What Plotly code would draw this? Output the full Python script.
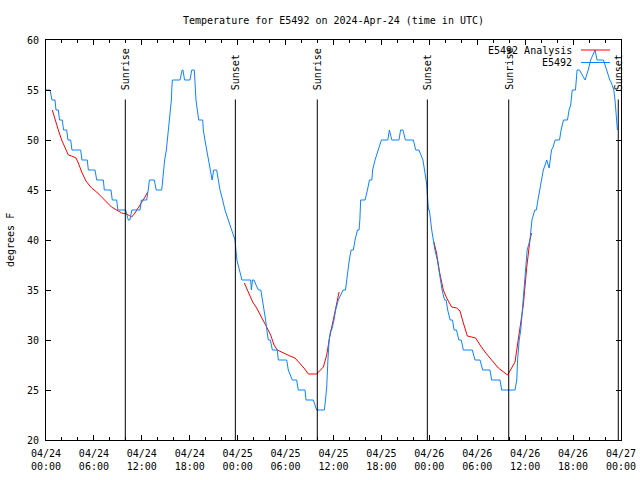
import pandas as pd
import plotly.graph_objects as go

BASE = pd.Timestamp("2024-04-24 00:00")

# Observed station temperature (hours since 04/24 00:00 UTC, deg F)
obs_hours = [0.0, 0.5, 0.75, 1.13, 1.25, 1.54, 1.7, 2.04, 2.2, 2.59, 2.75, 3.09, 3.25, 4.34, 4.5,
             5.17, 5.3, 6.14, 6.35, 7.18, 7.3, 8.14, 8.3, 8.85, 9.0, 9.98, 10.3, 10.5, 10.75,
             11.77, 11.95, 12.6, 12.8, 12.95, 13.56, 13.8, 14.49, 14.7, 14.86, 15.07, 15.2,
             15.36, 15.49, 15.61, 15.7, 15.75, 15.82, 16.78, 17.05, 17.15, 17.35, 18.03, 18.25,
             18.57, 18.7, 18.78, 18.95, 19.12, 19.62, 19.7, 19.9, 20.12, 20.33, 20.6, 20.8,
             21.0, 21.37, 21.58, 21.79, 22.12, 22.41, 22.83, 23.25, 23.67, 23.9, 24.2, 24.54,
             25.63, 25.72, 25.85, 26.05, 26.3, 26.6, 26.9, 27.13, 27.3, 27.5, 27.65, 27.84,
             28.1, 28.34, 28.96, 29.09, 30.14, 30.34, 30.84, 31.39, 31.59, 32.43, 32.56, 33.47,
             33.89, 34.85, 35.0, 35.15, 35.3, 35.45, 35.65, 35.77, 36.06, 36.27, 36.6, 36.9,
             37.2, 37.5, 37.65, 37.8, 37.98, 38.2, 38.48, 38.7, 39.0, 39.2, 39.3, 39.4, 39.95,
             40.25, 40.5, 40.8, 40.9, 41.2, 41.6, 42.0, 42.8, 43.0, 43.3, 44.2, 44.4, 44.7,
             45.0, 46.0, 46.3, 46.7, 47.2, 47.4, 47.55, 47.65, 47.9, 48.0, 48.3, 48.5, 48.7,
             49.0, 49.2, 49.4, 49.6, 49.9, 50.1, 50.3, 50.6, 50.9, 51.1, 51.4, 51.7, 52.0,
             52.26, 53.38, 53.72, 54.35, 54.68, 55.6, 55.8, 56.85, 57.06, 58.73, 58.95, 59.05,
             59.25, 59.45, 59.65, 59.85, 60.05, 60.25, 60.6, 60.75, 60.85, 61.2, 61.4, 61.6,
             61.85, 62.05, 62.27, 62.5, 62.7, 63.0, 63.1, 63.3, 63.5, 63.75, 64.3, 64.5, 64.8,
             65.3, 65.5, 65.7, 65.9, 66.3, 66.5, 66.8, 67.5, 67.9, 68.2, 68.75, 69.0, 69.8,
             70.0, 70.2, 70.4, 70.6, 70.8, 71.1, 71.25, 71.35, 71.45, 71.55]
obs_temps = [55, 55, 54, 54, 53, 53, 52, 52, 51, 51, 50, 50, 49, 49, 48,
             48, 47, 47, 46, 46, 45, 45, 44, 44, 43, 43, 42, 42, 43,
             43, 44, 44, 45, 46, 46, 45, 45, 47, 48, 49, 50,
             51, 52, 53, 54, 55, 56, 56, 57, 57, 56, 56, 57,
             57, 55, 54, 53, 52, 52, 51, 50, 49, 48, 47, 46,
             47, 47, 46, 45, 44, 43, 42, 41, 40, 38, 37, 36,
             36, 35, 36, 36, 35.5, 35, 35, 34, 33, 32, 31, 30,
             30, 29, 29, 28, 28, 27, 26, 26, 25, 25, 24, 24,
             23, 23, 24, 25.3, 28, 30, 31, 31, 32, 33, 34, 34.5,
             35, 35, 36, 37, 38, 39, 39, 40, 41, 41, 42, 44, 44,
             45, 46, 46, 47, 48, 49, 50, 50, 51, 50, 50, 51, 51,
             50, 50, 49, 49, 48, 47, 46.5, 45.7, 43, 43, 41, 40, 39,
             38, 37, 36, 35, 34, 34, 33, 32, 32, 31, 31, 30, 30,
             29, 29, 28, 28, 27, 27, 26, 26, 25, 25, 26, 28,
             30, 31, 33, 35, 37, 39, 40, 41, 42, 43, 43, 44,
             45, 46, 47, 47.5, 48, 47.2, 48, 49, 49.3, 50, 50, 51, 52,
             52, 53, 53.5, 55, 55, 57, 57, 56, 57, 58, 59, 58, 58,
             57.5, 57, 56.3, 56, 55.7, 55, 54, 52.7, 51.7, 51]

# Analysis temperature, three overnight windows (None = gap)
ana_hours = [0.79, 1.13, 1.54, 1.96, 2.38, 2.8, 3.2, 3.76, 4.05, 4.47, 5.0, 5.7, 6.35, 6.97,
             7.6, 8.2, 8.85, 9.48, 10.1, 10.73, 11.14, 11.56, 11.98, 12.4, 12.73, None,
             24.83, 25.33, 25.88, 26.38, 27.0, 27.63, 28.13, 28.55, 28.96, 29.71, 30.55, 31.18,
             31.8, 32.3, 32.85, 33.89, 34.73, 35.15, 35.5, 35.8, 36.2, 36.7, None,
             48.58, 48.9, 49.3, 49.75, 50.17, 50.8, 51.43, 51.84, 52.26, 52.76, 53.3, 53.8,
             54.35, 54.97, 55.8, 56.64, 57.8, 58.3, 58.73, 59.0, 59.35, 59.77, 60.2, 60.6, 60.8]
ana_temps = [53, 52.2, 51, 50, 49.2, 48.5, 48.4, 48.2, 47.7, 46.8, 45.9, 45.2, 44.8, 44.3,
             43.8, 43.3, 43, 42.7, 42.6, 42.3, 42.7, 43.2, 43.7, 44.3, 44.8, None,
             35.7, 34.8, 33.8, 33.2, 32.3, 31.3, 30.5, 29.5, 29, 28.7, 28.4, 28.2,
             27.7, 27.2, 26.6, 26.6, 27.3, 28.5, 30.2, 31.3, 32.7, 34.8, None,
             39.8, 38.7, 36.7, 35, 34.2, 33.3, 33.2, 32.9, 31.7, 30.4, 30.3, 30.2,
             29.5, 28.8, 28, 27.2, 26.5, 27.2, 27.8, 29.3, 31.3, 33.5, 37.3, 40, 40.7]

sun_hours = [9.93, 23.71, 33.97, 47.75, 57.94, 71.66]
sun_labels = ["Sunrise", "Sunset", "Sunrise", "Sunset", "Sunrise", "Sunset"]

title = "Temperature for E5492 on 2024-Apr-24 (time in UTC)"
ytitle = "degrees F"
names = ["E5492 Analysis", "E5492"]
colors = ["#ff0000", "#0a84ff"]


def to_time(hs):
    return [None if h is None else BASE + pd.Timedelta(hours=h) for h in hs]


FONT = dict(family="DejaVu Sans Mono", size=10, color="black")

fig = go.Figure()
fig.add_trace(go.Scatter(x=to_time(ana_hours), y=ana_temps, mode="lines", name=names[0],
                         line=dict(color=colors[0], width=1), connectgaps=False))
fig.add_trace(go.Scatter(x=to_time(obs_hours), y=obs_temps, mode="lines", name=names[1],
                         line=dict(color=colors[1], width=1)))

for h, lab in zip(sun_hours, sun_labels):
    t = BASE + pd.Timedelta(hours=h)
    fig.add_shape(type="line", xref="x", yref="y", x0=t, x1=t, y0=20, y1=54.05,
                  line=dict(color="black", width=1))
    fig.add_annotation(x=t, y=54.8, xref="x", yref="y", text=lab, showarrow=False,
                       textangle=-90, xanchor="center", yanchor="bottom", font=FONT)

# legend (gnuplot style: text right, sample on the right)
leg_y = [50, 62.5]
for nm, col, yp in zip(names, colors, leg_y):
    yv = 60 - (yp - 40) / 10
    fig.add_annotation(x=BASE + pd.Timedelta(hours=(574 - 46) / 7.986), y=yv, xref="x", yref="y",
                       text=nm, showarrow=False, xanchor="right", yanchor="middle", font=FONT)
    fig.add_shape(type="line", xref="x", yref="y",
                  x0=BASE + pd.Timedelta(hours=(581 - 46) / 7.986),
                  x1=BASE + pd.Timedelta(hours=(610 - 46) / 7.986),
                  y0=yv, y1=yv, line=dict(color=col, width=1))

fig.add_annotation(xref="paper", yref="paper", x=0, y=0.5, xshift=-36, text=ytitle,
                   showarrow=False, textangle=-90, xanchor="center", yanchor="middle", font=FONT)

fig.update_layout(
    width=640, height=480,
    margin=dict(l=46, r=19, t=40, b=40, autoexpand=False),
    paper_bgcolor="white", plot_bgcolor="white",
    showlegend=False,
    font=FONT,
    title=dict(text=title, x=(333.5 / 640), xanchor="center", y=1 - 20 / 480, yanchor="middle",
               font=FONT),
)
fig.update_xaxes(
    type="date", automargin=False,
    range=[BASE, BASE + pd.Timedelta(hours=72)],
    tickmode="linear", tick0=BASE, dtick=6 * 3600 * 1000,
    tickformat="%m/%d<br>%H:%M",
    ticks="inside", ticklen=5, tickcolor="black",
    minor=dict(dtick=2 * 3600 * 1000, tick0=BASE, ticks="inside", ticklen=3, tickcolor="black",
               showgrid=False),
    showline=True, linecolor="black", linewidth=1, mirror="allticks",
    showgrid=False, zeroline=False, ticklabelstandoff=4, tickfont=FONT,
)
fig.update_yaxes(
    range=[20, 60], tickmode="linear", tick0=20, dtick=5, automargin=False,
    ticks="inside", ticklen=5, tickcolor="black",
    showline=True, linecolor="black", linewidth=1, mirror="allticks",
    showgrid=False, zeroline=False, ticklabelstandoff=4, tickfont=FONT,
)

fig.write_html("out.html", config={"displayModeBar": False},
               post_script="document.body.style.margin='0';document.body.style.overflow='hidden';")
